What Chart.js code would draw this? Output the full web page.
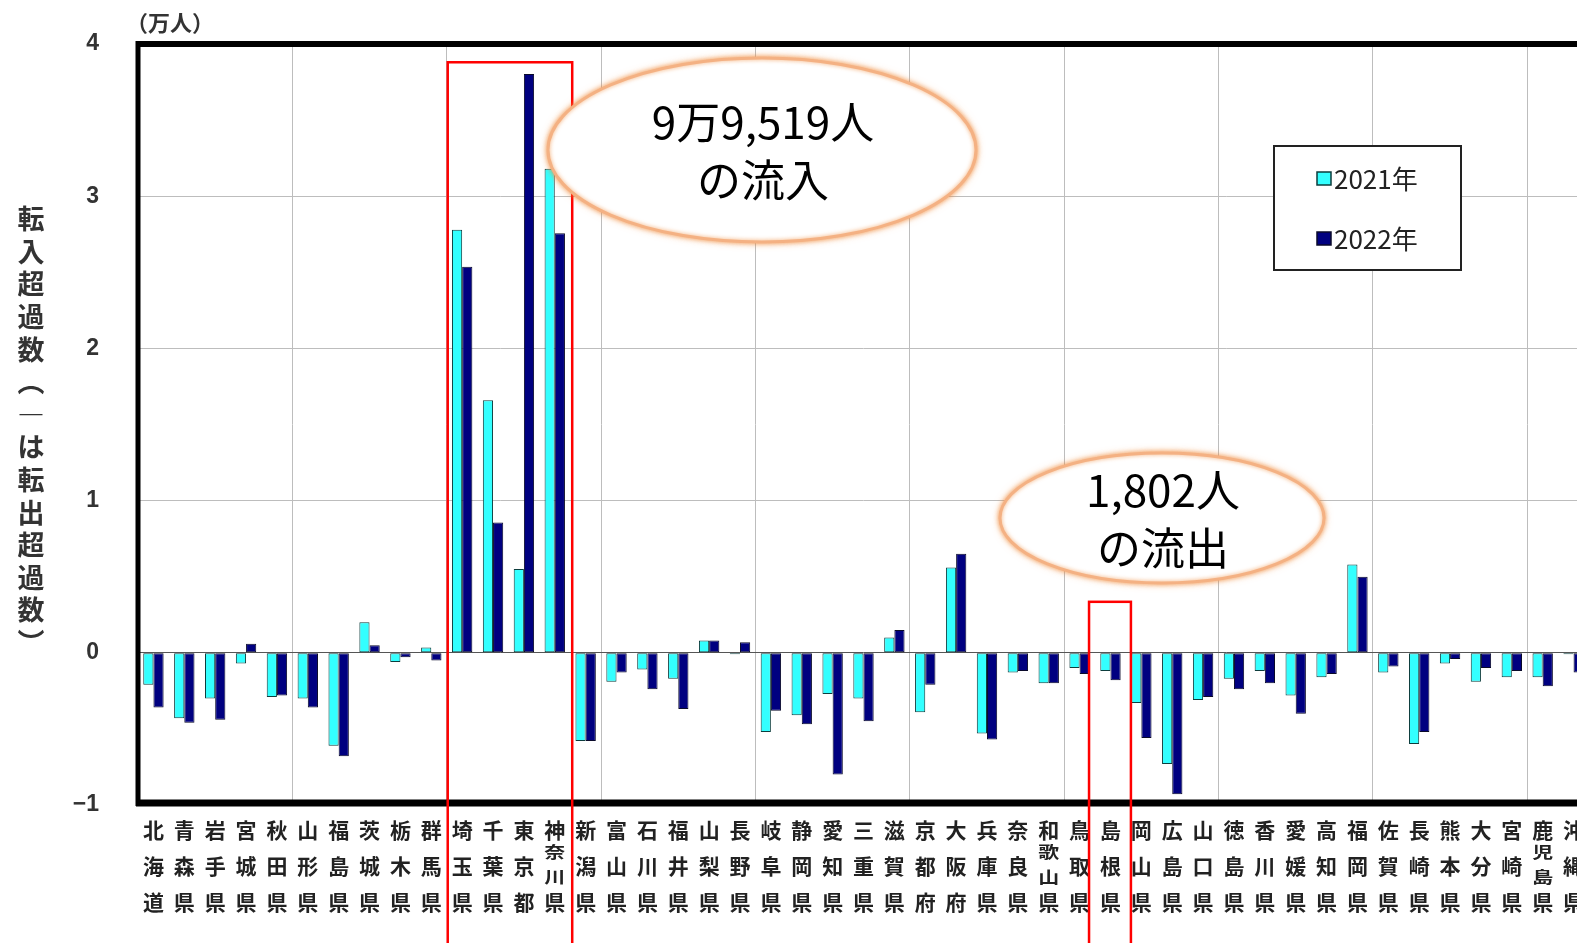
<!DOCTYPE html>
<html lang="ja">
<head>
<meta charset="utf-8">
<title>都道府県別 転入超過数</title>
<script src="https://cdn.jsdelivr.net/npm/chart.js@4.4.0/dist/chart.umd.min.js"></script>
<style>
    html, body { margin: 0; padding: 0; background: #fff; overflow: hidden; }
    #wrap { position: relative; width: 1600px; height: 943px; }
</style>
</head>
<body>
<div id="wrap"><canvas id="migrationChart" width="1600" height="943"></canvas></div>
<script>
// 都道府県別の転入超過数（万人、マイナスは転出超過）
const prefectures = [
    "北海道", "青森県", "岩手県", "宮城県", "秋田県", "山形県", "福島県", "茨城県", "栃木県", "群馬県",
    "埼玉県", "千葉県", "東京都", "神奈川県", "新潟県", "富山県", "石川県", "福井県", "山梨県", "長野県",
    "岐阜県", "静岡県", "愛知県", "三重県", "滋賀県", "京都府", "大阪府", "兵庫県", "奈良県", "和歌山県",
    "鳥取県", "島根県", "岡山県", "広島県", "山口県", "徳島県", "香川県", "愛媛県", "高知県", "福岡県",
    "佐賀県", "長崎県", "熊本県", "大分県", "宮崎県", "鹿児島県", "沖縄県"
];

const net2021 = [
    -0.21, -0.43, -0.30, -0.07, -0.29, -0.30, -0.61, 0.20, -0.06, 0.035,
    2.78, 1.66, 0.55, 3.18, -0.58, -0.19, -0.11, -0.17, 0.08, -0.01,
    -0.52, -0.41, -0.27, -0.30, 0.10, -0.39, 0.56, -0.53, -0.13, -0.20,
    -0.10, -0.12, -0.33, -0.73, -0.31, -0.17, -0.12, -0.28, -0.16, 0.58,
    -0.13, -0.60, -0.07, -0.19, -0.16, -0.16, -0.01
];

const net2022 = [
    -0.36, -0.46, -0.44, 0.06, -0.28, -0.36, -0.68, 0.05, -0.03, -0.05,
    2.5364, 0.8568, 3.8023, 2.7564, -0.58, -0.13, -0.24, -0.37, 0.08, 0.07,
    -0.38, -0.47, -0.80, -0.45, 0.15, -0.21, 0.65, -0.57, -0.12, -0.20,
    -0.14, -0.1802, -0.56, -0.93, -0.29, -0.24, -0.20, -0.40, -0.14, 0.50,
    -0.09, -0.52, -0.04, -0.10, -0.12, -0.22, -0.13
];

const seriesLabels = ["2021年", "2022年"];
const yTicks = [-1, 0, 1, 2, 3, 4];

const yTitle = ["転", "入", "超", "過", "数", "︵", "―", "は", "転", "出", "超", "過", "数", "︶"];

const callouts = [
    { lines: ["9万9,519人", "の流入"], cx: 762, cy: 150, rx: 214, ry: 92 },
    { lines: ["1,802人", "の流出"], cx: 1162, cy: 518, rx: 162, ry: 65 }
];

const CJK = '"Noto Sans CJK JP", "Noto Sans", sans-serif';

// outer frame drawn over the bars
const framePlugin = {
    id: "frame",
    afterDatasetsDraw(chart) {
        const { ctx, chartArea: a } = chart;
        ctx.save();
        ctx.strokeStyle = "#000";
        ctx.lineCap = "butt";
        ctx.lineWidth = 6;
        ctx.beginPath();
        ctx.moveTo(a.left - 2, a.top);
        ctx.lineTo(chart.width, a.top);
        ctx.stroke();
        ctx.lineWidth = 7;
        ctx.beginPath();
        ctx.moveTo(a.left - 2, a.bottom - 2);
        ctx.lineTo(chart.width, a.bottom - 2);
        ctx.stroke();
        ctx.lineWidth = 5;
        ctx.beginPath();
        ctx.moveTo(a.left, a.top - 3);
        ctx.lineTo(a.left, a.bottom + 1);
        ctx.stroke();
        ctx.restore();
    }
};

// vertical prefecture names, axis title, unit, legend
const labelsPlugin = {
    id: "labels",
    afterDraw(chart) {
        const { ctx } = chart;
        const x = chart.scales.x;
        ctx.save();
        ctx.fillStyle = "#222";
        ctx.textAlign = "center";
        ctx.textBaseline = "middle";
        ctx.font = "bold 21px " + CJK;
        prefectures.forEach((name, i) => {
            const px = x.getPixelForValue(i);
            const chars = [...name];
            if (chars.length === 3) {
                chars.forEach((ch, j) => ctx.fillText(ch, px, 830 + j * 36));
            } else {
                ctx.fillText(chars[0], px, 830);
                [852, 877].forEach((py, j) => {
                    ctx.save();
                    ctx.translate(px, py);
                    ctx.scale(1, 0.78);
                    ctx.fillText(chars[j + 1], 0, 0);
                    ctx.restore();
                });
                ctx.fillText(chars[3], px, 902);
            }
        });

        // y axis title, stacked
        ctx.fillStyle = "#333";
        ctx.font = "bold 27px " + CJK;
        yTitle.forEach((ch, i) => ctx.fillText(ch, 31, 219 + i * 32.6));

        // unit
        ctx.font = "bold 22px " + CJK;
        ctx.fillText("（万人）", 170, 23);

        // legend
        const lx = 1274, ly = 146, lw = 187, lh = 124;
        ctx.fillStyle = "#fff";
        ctx.fillRect(lx, ly, lw, lh);
        ctx.strokeStyle = "#222";
        ctx.lineWidth = 2;
        ctx.strokeRect(lx, ly, lw, lh);
        ctx.textAlign = "left";
        ctx.font = "26px " + CJK;
        chart.data.datasets.forEach((ds, i) => {
            const cy = 178 + i * 60;
            ctx.fillStyle = ds.backgroundColor;
            ctx.fillRect(1317, cy - 6, 14, 13);
            ctx.strokeStyle = ds.borderColor;
            ctx.lineWidth = 1.5;
            ctx.strokeRect(1317, cy - 6, 14, 13);
            ctx.fillStyle = "#222";
            ctx.fillText(ds.label, 1334, cy + 1);
        });
        ctx.restore();
    }
};

// red highlight boxes and speech ellipses
const calloutPlugin = {
    id: "callouts",
    afterDraw(chart) {
        const { ctx } = chart;
        const x = chart.scales.x, y = chart.scales.y;
        const half = (x.getPixelForValue(1) - x.getPixelForValue(0)) / 2;

        ctx.save();
        ctx.strokeStyle = "#ff0000";
        ctx.lineWidth = 2.5;
        const k0 = prefectures.indexOf("埼玉県"), k1 = prefectures.indexOf("神奈川県");
        const left1 = x.getPixelForValue(k0) - half + 1;
        const right1 = x.getPixelForValue(k1) + half + 2;
        const top1 = y.getPixelForValue(3.88);
        ctx.strokeRect(left1, top1, right1 - left1, 960 - top1);

        const s = prefectures.indexOf("島根県");
        const left2 = x.getPixelForValue(s) - half - 6;
        const right2 = x.getPixelForValue(s) + half + 5;
        const top2 = y.getPixelForValue(0.335);
        ctx.strokeRect(left2, top2, right2 - left2, 960 - top2);

        callouts.forEach(c => {
            ctx.save();
            ctx.beginPath();
            ctx.ellipse(c.cx, c.cy, c.rx, c.ry, 0, 0, Math.PI * 2);
            ctx.shadowColor = "rgba(240, 140, 60, 0.75)";
            ctx.shadowBlur = 8;
            ctx.fillStyle = "#fff";
            ctx.fill();
            ctx.shadowBlur = 4;
            ctx.strokeStyle = "#f4b183";
            ctx.lineWidth = 3;
            ctx.stroke();
            ctx.restore();

            ctx.fillStyle = "#000";
            ctx.textAlign = "center";
            ctx.textBaseline = "middle";
            ctx.font = "44px " + CJK;
            ctx.fillText(c.lines[0], c.cx + 1, c.cy - 28);
            ctx.fillText(c.lines[1], c.cx + 1, c.cy + 30);
        });
        ctx.restore();
    }
};

const ctx = document.getElementById("migrationChart").getContext("2d");
new Chart(ctx, {
    type: "bar",
    data: {
        labels: prefectures,
        datasets: [
            {
                label: seriesLabels[0],
                data: net2021,
                backgroundColor: "#33ffff",
                borderColor: "#0d3d3d",
                borderWidth: 1,
                borderSkipped: false
            },
            {
                label: seriesLabels[1],
                data: net2022,
                backgroundColor: "#000080",
                borderColor: "#0a0a2a",
                borderWidth: 1,
                borderSkipped: false
            }
        ]
    },
    options: {
        responsive: false,
        devicePixelRatio: 1,
        animation: false,
        categoryPercentage: 0.66,
        barPercentage: 1.0,
        layout: { padding: { top: 44, right: 11, left: 0, bottom: 0 } },
        plugins: {
            legend: { display: false },
            tooltip: { enabled: false }
        },
        scales: {
            x: {
                grid: {
                    offset: true,
                    drawTicks: false,
                    lineWidth: 1,
                    color: c => (c.index > 0 && c.index % 5 === 0 && c.index < prefectures.length) ? "#bdbdbd" : "rgba(0,0,0,0)"
                },
                border: { display: false },
                ticks: { display: false },
                afterFit: s => { s.height = 138; }
            },
            y: {
                min: yTicks[0],
                max: yTicks[yTicks.length - 1],
                afterBuildTicks: s => { s.ticks = yTicks.map(v => ({ value: v })); },
                ticks: {
                    padding: 1,
                    color: "#333",
                    font: { family: '"Liberation Sans", Arial, sans-serif', size: 23, weight: "bold" },
                    callback: v => v < 0 ? "−" + Math.abs(v) : String(v)
                },
                grid: {
                    drawTicks: true,
                    tickLength: 38,
                    tickColor: "rgba(0,0,0,0)",
                    lineWidth: 1,
                    color: c => c.tick && c.tick.value === 0 ? "#555" : "#bdbdbd"
                },
                border: { display: false },
                afterFit: s => { s.width = 138; }
            }
        }
    },
    plugins: [framePlugin, labelsPlugin, calloutPlugin]
});
</script>
</body>
</html>
